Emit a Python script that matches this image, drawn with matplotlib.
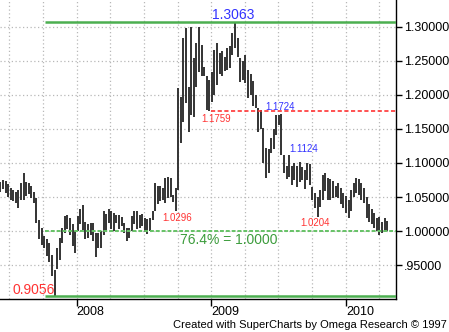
import matplotlib
matplotlib.use("Agg")
import matplotlib.pyplot as plt
import matplotlib.dates as mdates
import pandas as pd
import numpy as np

plt.rcParams['font.family'] = ['Liberation Sans', 'DejaVu Sans']

# ---------------- data ----------------
start_date = "2007-06-08"
highs = [
    1.072, 1.075, 1.073, 1.069, 1.064, 1.061, 1.058, 1.060, 1.070, 1.086,
    1.072, 1.070, 1.066, 1.058, 1.048, 1.017, 1.005, 0.993, 0.988, 0.982,
    0.965, 0.943, 0.975, 0.990, 1.005, 1.022, 1.024, 1.020, 1.010, 1.000,
    1.022, 1.032, 1.039, 1.014, 1.010, 1.012, 1.012, 0.998, 0.998, 1.000,
    1.029, 1.025, 1.032, 1.029, 1.026, 1.024, 1.024, 1.021, 1.012, 1.005,
    1.005, 1.022, 1.029, 1.030, 1.024, 1.025, 1.020, 1.018, 1.020, 1.029,
    1.071, 1.066, 1.066, 1.064, 1.078, 1.079, 1.078, 1.053, 1.064, 1.210,
    1.197, 1.284, 1.298, 1.212, 1.300, 1.254, 1.276, 1.300, 1.273, 1.241,
    1.227, 1.222, 1.234, 1.266, 1.276, 1.262, 1.264, 1.255, 1.269, 1.272,
    1.291, 1.3063, 1.284, 1.254, 1.250, 1.258, 1.237, 1.230, 1.220, 1.200,
    1.181, 1.178, 1.152, 1.122, 1.120, 1.137, 1.150, 1.171, 1.171, 1.1724,
    1.112, 1.095, 1.1124, 1.095, 1.100, 1.095, 1.101, 1.094, 1.090, 1.100,
    1.098, 1.065, 1.056, 1.050, 1.060, 1.083, 1.086, 1.078, 1.076, 1.074,
    1.066, 1.070, 1.064, 1.056, 1.052, 1.046, 1.060, 1.071, 1.078, 1.076,
    1.070, 1.064, 1.050, 1.040, 1.032, 1.027, 1.020, 1.021, 1.014, 1.020,
    1.015]
lows = [
    1.058, 1.062, 1.056, 1.050, 1.046, 1.044, 1.041, 1.034, 1.046, 1.046,
    1.052, 1.055, 1.048, 1.041, 1.012, 0.988, 0.980, 0.976, 0.964, 0.955,
    0.935, 0.9056, 0.945, 0.958, 0.983, 0.998, 1.003, 0.995, 0.978, 0.968,
    1.000, 1.010, 1.002, 0.988, 0.990, 0.995, 0.985, 0.962, 0.976, 0.976,
    0.995, 1.000, 1.012, 1.003, 1.000, 1.012, 1.003, 1.008, 0.998, 0.985,
    0.990, 1.000, 1.010, 1.003, 1.005, 1.008, 0.999, 0.996, 1.000, 1.017,
    1.029, 1.040, 1.044, 1.045, 1.042, 1.048, 1.050, 1.043, 1.0296, 1.060,
    1.130, 1.160, 1.188, 1.146, 1.170, 1.168, 1.212, 1.234, 1.227, 1.227,
    1.178, 1.1759, 1.190, 1.200, 1.215, 1.230, 1.228, 1.235, 1.237, 1.240,
    1.259, 1.269, 1.255, 1.219, 1.222, 1.218, 1.196, 1.200, 1.183, 1.181,
    1.146, 1.150, 1.100, 1.078, 1.085, 1.115, 1.120, 1.141, 1.155, 1.112,
    1.085, 1.076, 1.080, 1.068, 1.075, 1.065, 1.072, 1.075, 1.062, 1.075,
    1.068, 1.046, 1.034, 1.0204, 1.035, 1.046, 1.059, 1.046, 1.045, 1.048,
    1.050, 1.048, 1.040, 1.034, 1.027, 1.020, 1.030, 1.050, 1.056, 1.053,
    1.046, 1.042, 1.020, 1.014, 1.010, 1.005, 1.000, 0.995, 0.998, 0.999,
    1.000]

ytick_values = [0.95, 1.00, 1.05, 1.10, 1.15, 1.20, 1.25, 1.30]
ytick_labels = [".95000", "1.00000", "1.05000", "1.10000", "1.15000",
                "1.20000", "1.25000", "1.30000"]
year_ticks = ["2008-01-01", "2009-01-01", "2010-01-01"]
year_labels = ["2008", "2009", "2010"]

top_level = 1.3063
bottom_level = 0.9056
fib_level = 1.0000
fib_pct = "76.4%"
red_level = 1.1759

# pivot labels: (text value, colour, x axes-fraction, y axes-fraction)
pivots = [
    (1.1759, "#ff3333", 0.546, 0.602),
    (1.1724, "#3333ff", 0.709, 0.642),
    (1.1124, "#3333ff", 0.768, 0.501),
    (1.0296, "#ff3333", 0.447, 0.270),
    (1.0204, "#ff3333", 0.796, 0.253),
]

dates = pd.date_range(start_date, periods=len(highs), freq="7D")

# ---------------- figure ----------------
fig = plt.figure(figsize=(4.49, 3.32), dpi=100)
ax = fig.add_axes([0.0, 1 - 298.7 / 332, 395.7 / 449, 298.7 / 332])

ax.set_xlim(pd.Timestamp("2007-06-07"), pd.Timestamp("2010-05-16"))
ax.set_ylim(0.901, 1.339)

# grid
ax.xaxis.set_minor_locator(mdates.MonthLocator(bymonth=[1, 4, 7, 10]))
ax.set_xticks(pd.to_datetime(year_ticks))
ax.set_xticklabels(year_labels, ha="left", fontsize=9)
ax.tick_params(axis="x", which="major", length=5, direction="out", pad=0.5,
               color="black", width=1)
ax.tick_params(axis="x", which="minor", length=0)
ax.grid(True, which="both", axis="x", color="#b8b8b8", linestyle=(0, (1, 2)), lw=0.9)

ax.yaxis.tick_right()
ax.set_yticks(ytick_values)
ax.set_yticklabels(ytick_labels, fontsize=9)
ax.tick_params(axis="y", length=4, direction="out", pad=2, width=1)
ax.grid(True, axis="y", color="#b8b8b8", linestyle=(0, (1, 2)), lw=0.9)
ax.set_axisbelow(True)

for s in ["left", "top"]:
    ax.spines[s].set_visible(False)
for s in ["right", "bottom"]:
    ax.spines[s].set_color("black")
    ax.spines[s].set_linewidth(1.0)

# price bars
ax.vlines(dates, lows, highs, color="#333333", lw=1.4, zorder=3)

# level lines
line_start = pd.Timestamp("2007-10-06")
xmax = pd.Timestamp("2010-05-16")
ax.hlines(top_level, line_start, xmax, color="#4caf50", lw=1.8, zorder=4)
ax.hlines(bottom_level, line_start, xmax, color="#4caf50", lw=1.8, zorder=4)
ax.hlines(fib_level, line_start, xmax, color="#66c266", lw=1.4,
          linestyle=(0, (2, 1)), zorder=4)
ax.hlines(red_level, pd.Timestamp("2008-12-31"), xmax, color="#ff3333", lw=1.2,
          linestyle=(0, (2.5, 1.5)), zorder=4)

# texts
ax.text(0.589, 0.950, f"{top_level:.4f}", transform=ax.transAxes, color="#3333ff",
        fontsize=10, ha="center", va="center")
ax.text(0.086, 0.029, f"{bottom_level:.4f}", transform=ax.transAxes, color="#ff3333",
        fontsize=10, ha="center", va="center")
ax.text(0.577, 0.197, f"{fib_pct} = {fib_level:.4f}", transform=ax.transAxes,
        color="#3c9c3c", fontsize=10, ha="center", va="center")
for val, col, xf, yf in pivots:
    ax.text(xf, yf, f"{val:.4f}", transform=ax.transAxes, color=col,
            fontsize=7, ha="center", va="center")

fig.text(447 / 449, 1 - 324.5 / 332, "Created with SuperCharts by Omega Research \u00a9 1997",
         ha="right", va="center", fontsize=8, color="black")

fig.savefig("out.png", dpi=100)
